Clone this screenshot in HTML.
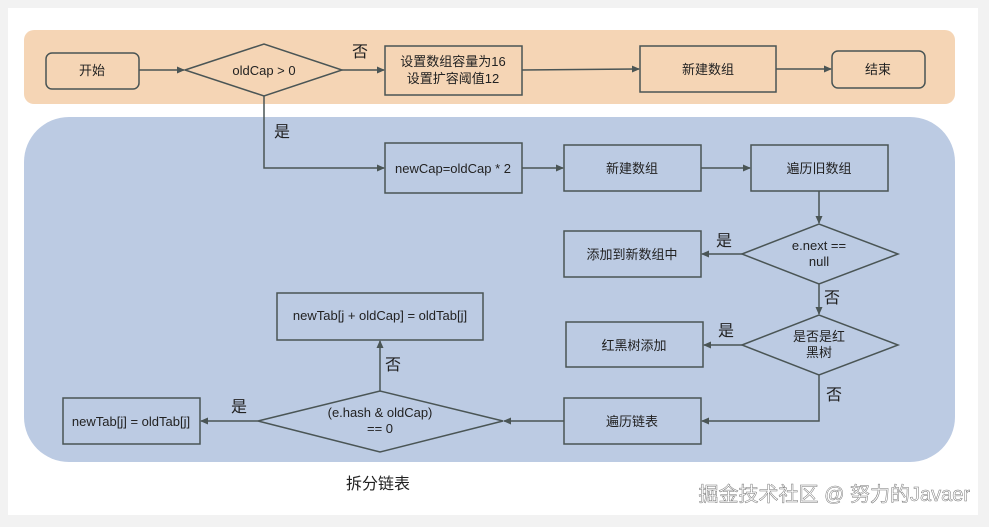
<!DOCTYPE html>
<html><head><meta charset="utf-8"><style>
html,body{margin:0;padding:0;background:#f3f3f3;}
svg{display:block;}
text{font-family:"Liberation Sans","Noto Sans CJK SC",sans-serif;fill:#222;}
</style></head><body>
<svg width="989" height="527" viewBox="0 0 989 527" xmlns="http://www.w3.org/2000/svg">
<defs>
<marker id="a" markerWidth="8" markerHeight="8" refX="7" refY="4" orient="auto" markerUnits="userSpaceOnUse">
<path d="M0,0.5 L8,4 L0,7.5 Z" fill="#4a5555"/></marker>
</defs>
<rect x="0" y="0" width="989" height="527" fill="#f2f2f2"/>
<rect x="8" y="8" width="970" height="507" fill="#ffffff"/>
<rect x="24" y="30" width="931" height="74" rx="10" fill="#f5d5b5"/>
<rect x="24" y="117" width="931" height="345" rx="45" fill="#bccbe3"/>
<g stroke="#4a5555" stroke-width="1.5" fill="none">
<rect x="46" y="53" width="93" height="36" rx="6"/>
<polygon points="185,70 264,44 342,70 264,96"/>
<rect x="385" y="46" width="137" height="49"/>
<rect x="640" y="46" width="136" height="46"/>
<rect x="832" y="51" width="93" height="37" rx="6"/>
<rect x="385" y="143" width="137" height="50"/>
<rect x="564" y="145" width="137" height="46"/>
<rect x="751" y="145" width="137" height="46"/>
<polygon points="742,254 819,224 898,254 819,284"/>
<rect x="564" y="231" width="137" height="46"/>
<polygon points="742,345 819,315 898,345 819,375"/>
<rect x="566" y="322" width="137" height="45"/>
<rect x="564" y="398" width="137" height="46"/>
<polygon points="258,421 380,391 503,421 380,452"/>
<rect x="63" y="398" width="137" height="46"/>
<rect x="277" y="293" width="206" height="47"/>
<g marker-end="url(#a)">
<line x1="139" y1="70" x2="184" y2="70"/>
<line x1="342" y1="70" x2="384" y2="70"/>
<line x1="522" y1="70" x2="639" y2="69"/>
<line x1="776" y1="69" x2="831" y2="69"/>
<polyline points="264,96 264,168 384,168"/>
<line x1="522" y1="168" x2="563" y2="168"/>
<line x1="701" y1="168" x2="750" y2="168"/>
<line x1="819" y1="191" x2="819" y2="223"/>
<line x1="742" y1="254" x2="702" y2="254"/>
<line x1="819" y1="284" x2="819" y2="314"/>
<line x1="742" y1="345" x2="704" y2="345"/>
<polyline points="819,375 819,421 702,421"/>
<line x1="564" y1="421" x2="504" y2="421"/>
<line x1="258" y1="421" x2="201" y2="421"/>
<line x1="380" y1="391" x2="380" y2="341"/>
</g>
</g>
<g font-size="13" text-anchor="middle">
<text x="92" y="75">开始</text>
<text x="264" y="75">oldCap &gt; 0</text>
<text x="453" y="66">设置数组容量为16</text>
<text x="453" y="83">设置扩容阈值12</text>
<text x="708" y="74">新建数组</text>
<text x="878" y="74">结束</text>
<text x="453" y="173">newCap=oldCap * 2</text>
<text x="632" y="173">新建数组</text>
<text x="819" y="173">遍历旧数组</text>
<text x="819" y="250">e.next ==</text>
<text x="819" y="266">null</text>
<text x="632" y="259">添加到新数组中</text>
<text x="819" y="341">是否是红</text>
<text x="819" y="357">黑树</text>
<text x="634" y="350">红黑树添加</text>
<text x="632" y="426">遍历链表</text>
<text x="380" y="417">(e.hash &amp; oldCap)</text>
<text x="380" y="433">== 0</text>
<text x="131" y="426">newTab[j] = oldTab[j]</text>
<text x="380" y="320">newTab[j + oldCap] = oldTab[j]</text>
</g>
<g font-size="16" text-anchor="middle">
<text x="360" y="57">否</text>
<text x="282" y="137">是</text>
<text x="724" y="246">是</text>
<text x="832" y="303">否</text>
<text x="726" y="336">是</text>
<text x="834" y="400">否</text>
<text x="239" y="412">是</text>
<text x="393" y="370">否</text>
<text x="378" y="489">拆分链表</text>
</g>
<text x="970" y="501" font-size="20" text-anchor="end" style="fill:#ffffff;stroke:#777;stroke-width:0.5">掘金技术社区 @ 努力的Javaer</text>
</svg>
</body></html>
